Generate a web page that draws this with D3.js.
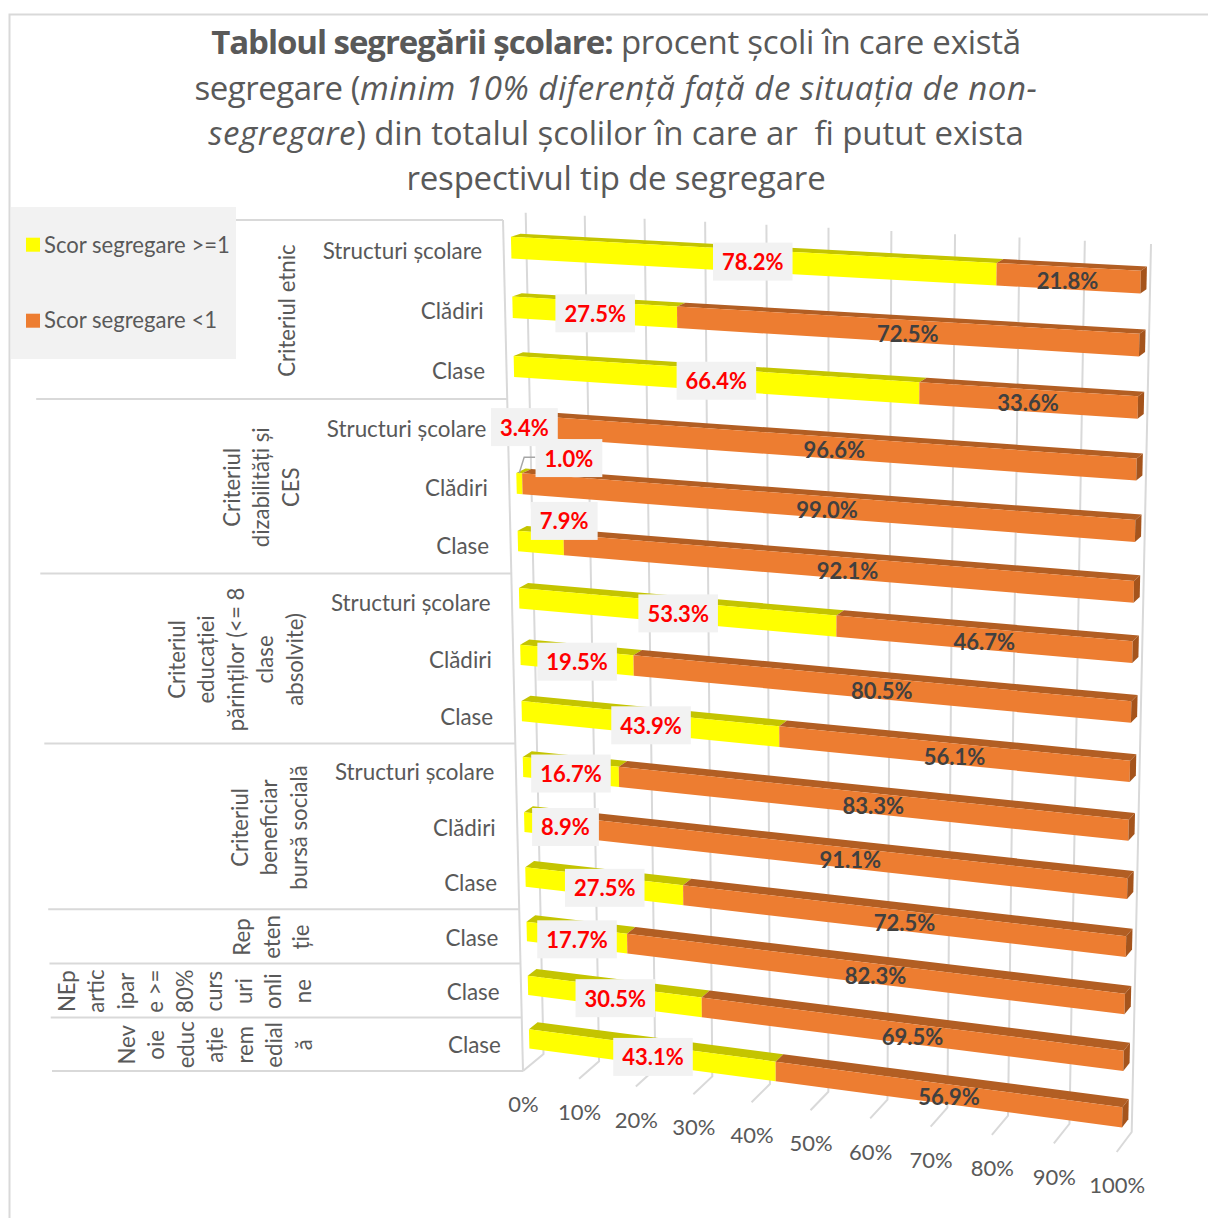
<!DOCTYPE html>
<html><head><meta charset="utf-8">
<script src="https://cdn.jsdelivr.net/npm/d3@7"></script>
<style>html,body{margin:0;padding:0;background:#fff}svg{display:block}text{white-space:pre}</style>
</head><body><svg id="c" width="1208" height="1218"></svg>
<script>
const categories=["Structuri școlare","Clădiri","Clase","Structuri școlare","Clădiri","Clase","Structuri școlare","Clădiri","Clase","Structuri școlare","Clădiri","Clase","Clase","Clase","Clase"];
const groupLines=[["Criteriul etnic"],["Criteriul","dizabilități și","CES"],["Criteriul","educației","părinților (<= 8","clase","absolvite)"],["Criteriul","beneficiar","bursă socială"],["Rep","eten","ție"],["NEp","artic","ipar","e >=","80%","curs","uri","onli","ne"],["Nev","oie","educ","ație","rem","edial","ă"]];
const groupSizes=[3,3,3,3,1,1,1];
const seriesNames=["Scor segregare >=1","Scor segregare <1"];
const yellowValues=[78.2,27.5,66.4,3.4,1.0,7.9,53.3,19.5,43.9,16.7,8.9,27.5,17.7,30.5,43.1];
const orangeValues=[21.8,72.5,33.6,96.6,99.0,92.1,46.7,80.5,56.1,83.3,91.1,72.5,82.3,69.5,56.9];

const svg=d3.select("#c");
const F="Lato, 'Open Sans', sans-serif";
// box projection
const corners={F00:[503,220],F01:[523,1071],F10:[1136.5,253.5],F11:[1116.7,1152],B00:[525.7,212.7],B01:[543.5,1054],B10:[1151,244],B11:[1131.7,1132]};
const uScale=d3.scaleLinear().domain([0,100]).range([0,1]);
const vScale=d3.scaleLinear().domain([0,15]).range([0,1]);
const cu=0.065,cv=0.00436;
function P(val,v,d){
  const a=uScale(val),u=a/(1+cu*(1-a));
  const w=vScale(v)*(1+15*cv)/(1+cv*v);
  const bil=(A,B,C,D,k)=>(A[k]*(1-u)+C[k]*u)*(1-w)+(B[k]*(1-u)+D[k]*u)*w;
  const c=corners;
  const f=k=>bil(c.F00,c.F01,c.F10,c.F11,k)*(1-d)+bil(c.B00,c.B01,c.B10,c.B11,k)*d;
  return [f(0),f(1)];
}
const axisX=v=>P(0,v,0)[0], axisY=v=>P(0,v,0)[1];
const line=d3.line();
const poly=pts=>line(pts)+"Z";
const grid="#D9D9D9", txt="#595959";

// frame
svg.append("path").attr("d","M9.5,1218V14.5H1208").attr("fill","none").attr("stroke",grid).attr("stroke-width",2);

// gridlines + tick labels
const gG=svg.append("g");
const ticks=uScale.ticks(10);
ticks.forEach(t=>{
  gG.append("path").attr("d",line([P(t,15,0),P(t,15,1),P(t,0,1)])).attr("fill","none").attr("stroke",grid).attr("stroke-width",2);
  const p=P(t,15,0);
  svg.append("text").attr("x",p[0]+.5).attr("y",p[1]+32.7).attr("text-anchor","middle").attr("dominant-baseline","central").attr("font-family",F).attr("font-size",22).attr("fill",txt).text(t+"%");
});
// category axis + separators
gG.append("path").attr("d",line([P(0,0,0),P(0,15,0)])).attr("fill","none").attr("stroke",grid).attr("stroke-width",2);
let acc=0;
[0].concat(groupSizes).forEach(s=>{
  acc+=s;
  gG.append("line").attr("x1",axisX(acc)-471).attr("x2",axisX(acc)).attr("y1",axisY(acc)).attr("y2",axisY(acc)).attr("stroke",grid).attr("stroke-width",2);
});
// group labels
acc=0;
groupLines.forEach((ls,g)=>{
  const vc=acc+groupSizes[g]/2; acc+=groupSizes[g];
  ls.forEach((l,k)=>{
    const x=axisX(vc)-219-29.5*(ls.length-1-k), y=axisY(vc);
    svg.append("text").attr("transform",`translate(${x},${y+.5}) rotate(-90)`).attr("text-anchor","middle").attr("dominant-baseline","central").attr("font-family",F).attr("font-size",22.2).attr("fill",txt).text(l);
  });
});
// category labels
categories.forEach((c,i)=>{
  svg.append("text").attr("x",axisX(i+.5)-21.5).attr("y",axisY(i+.5)+.6).attr("text-anchor","end").attr("dominant-baseline","central").attr("font-family",F).attr("font-size",22.4).attr("fill",txt).text(c);
});
// bars
const hh=.18,d0=.33,d1=.75;
const colors=[{f:"#FFFF00",t:"#C4C400",e:"#A8A800"},{f:"#ED7D31",t:"#B25E23",e:"#A5541C"}];
const gB=svg.append("g");
function seg(i,a,b,col,end){
  const v0=i+.5-hh,v1=i+.5+hh;
  gB.append("path").attr("d",poly([P(a,v0,d0),P(b,v0,d0),P(b,v0,d1),P(a,v0,d1)])).attr("fill",col.t);
  gB.append("path").attr("d",poly([P(a,v0,d0),P(b,v0,d0),P(b,v1,d0),P(a,v1,d0)])).attr("fill",col.f);
  if(end) gB.append("path").attr("d",poly([P(b,v0,d0),P(b,v0,d1),P(b,v1,d1),P(b,v1,d0)])).attr("fill",col.e);
}
yellowValues.forEach((y,i)=>{
  seg(i,0,y,colors[0],false);
  seg(i,y,y+orangeValues[i],colors[1],true);
});
// leader for the 1.0% label
const manual={4:[49.5,-25.5],5:[23.5,-22],10:[16,2]};
{const p=P(yellowValues[4]/2,4.5-hh,d0);
 svg.append("path").attr("d",line([[p[0],p[1]],[p[0]+5,p[1]-16],[p[0]+16,p[1]-16]])).attr("fill","none").attr("stroke","#A6A6A6").attr("stroke-width",1.5);}
// data labels
const gL=svg.append("g");
yellowValues.forEach((y,i)=>{
  const p=P(y/2,i+.5,d0);
  const m=manual[i]||[15*uScale(y/2)-1,1+i/14];
  const t=gL.append("text").attr("x",p[0]+m[0]).attr("y",p[1]+m[1]).attr("text-anchor","middle").attr("dominant-baseline","central").attr("font-family",F).attr("font-weight",700).attr("font-size",22).attr("fill","#FF0000").text(y.toFixed(1)+"%");
  const b=t.node().getBBox();
  gL.insert("rect","text:last-child").attr("x",b.x-9).attr("y",p[1]+m[1]-19).attr("width",b.width+18).attr("height",38).attr("fill","#F2F2F2");
});
orangeValues.forEach((o,i)=>{
  const mid=yellowValues[i]+o/2;
  const p=P(mid,i+.5,d0);
  gL.append("text").attr("x",p[0]+8-22*(uScale(mid)-.5)).attr("y",p[1]+2.5).attr("text-anchor","middle").attr("dominant-baseline","central").attr("font-family",F).attr("font-weight",700).attr("font-size",22).attr("fill","#404040").text(o.toFixed(1)+"%");
});
// legend
const gLeg=svg.append("g");
gLeg.append("rect").attr("x",11).attr("y",207).attr("width",225).attr("height",152).attr("fill","#F2F2F2");
seriesNames.forEach((n,i)=>{
  const cy=[244.7,320.7][i];
  gLeg.append("rect").attr("x",26).attr("y",cy-7).attr("width",14).attr("height",14).attr("fill",colors[i].f);
  gLeg.append("text").attr("x",44).attr("y",cy-(i?1.2:.4)).attr("dominant-baseline","central").attr("font-family",F).attr("font-size",22.1).attr("fill",txt).text(n);
});
// title: [text, bold, italic, letter spacing]
const titleLines=[
 [["Tabloul segregării școlare:",1,0,-1.05],[" procent școli în care există",0,0,-.25]],
 [["segregare (",0,0,-.5],["minim 10% diferență față de situația de non-",0,1,.55]],
 [["segregare",0,1,.6],[") din totalul școlilor în care ar  fi putut exista",0,0,-.1]],
 [["respectivul tip de segregare",0,0,-.2]]];
titleLines.forEach((ln,i)=>{
  const t=svg.append("text").attr("x",616).attr("y",[41,87,132,177][i]).attr("text-anchor","middle").attr("dominant-baseline","central").attr("font-family","'Open Sans', sans-serif").attr("font-size",33).attr("fill",txt);
  ln.forEach(s=>t.append("tspan").attr("font-weight",s[1]?700:400).attr("font-style",s[2]?"italic":"normal").attr("letter-spacing",s[3]).text(s[0]));
});
</script></body></html>
